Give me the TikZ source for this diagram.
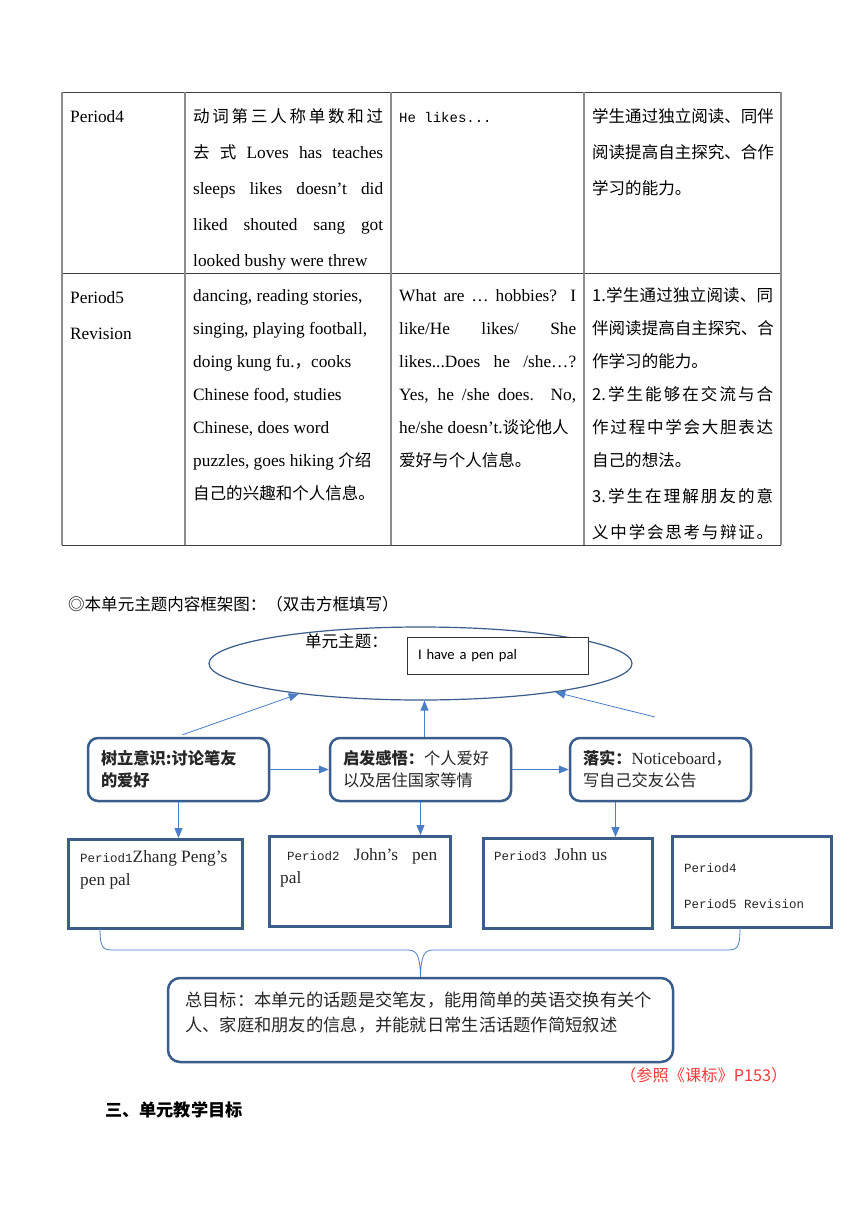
\documentclass[tikz,border=0pt]{standalone}
\usepackage{fontspec}
\setmainfont{Liberation Serif}
\setmonofont{Liberation Mono}
\newfontfamily\cjk{Noto Sans CJK SC}[Scale=0.955]
\newfontfamily\calibri{Carlito}
\usetikzlibrary{shapes.geometric,arrows.meta}

\definecolor{frameblue}{HTML}{3A5D8C}
\definecolor{linkblue}{HTML}{4A7EC6}
\definecolor{notered}{HTML}{F03C3C}

\newcommand{\zh}[1]{{\cjk #1}}
\newcommand{\per}[1]{{\fontsize{12.5}{15}\ttfamily #1}}
% stretch one line to a fixed width
\newcommand{\jline}[2]{\makebox[#1][s]{#2}}
% same, but spread every Chinese character
\def\spreadzh#1{\spreadfirst#1\relax}
\def\spreadfirst#1{#1\spreadnext}
\def\spreadnext#1{\ifx#1\relax\else\hfil#1\expandafter\spreadnext\fi}
\newcommand{\zhfill}[2]{\makebox[#1][s]{\cjk\spreadzh{#2}}}

\begin{document}
\begin{tikzpicture}[x=1pt, y=-1pt,
  cell/.style={anchor=base west, inner sep=0pt, font=\fontsize{17.3}{20}\selectfont},
  rule/.style={draw=black!75, line width=1pt},
  vrule/.style={draw=black!45, line width=1.4pt},
  focus/.style={draw=frameblue, line width=2.5pt, rounded corners=10pt,
    minimum width=181pt, minimum height=63pt, inner xsep=13pt, text width=155pt,
    align=left, font=\fontsize{17}{22}\selectfont, text=black!85},
  period/.style={draw=frameblue, line width=3pt, anchor=north west, inner sep=0pt},
  link/.style={-{Triangle[length=10pt,width=8pt]}, draw=linkblue, line width=0.8pt},
  boxtext/.style={anchor=base west, inner sep=0pt, font=\fontsize{17.3}{20}\selectfont, text=black!85}
]
\fill[white] (0,0) rectangle (860,1216);
\useasboundingbox (0,0) rectangle (860,1216);

% Table rules
\foreach \y in {92,273,545} \draw[rule] (62,\y) -- (781,\y);
\foreach \x in {62,185,391,584,781} \draw[vrule] (\x,92) -- (\x,545);

% Row Period4
\node[cell] (r1a) at (70,122) {Period4};
\node[cell] (r1b1) at (193,122) {\zhfill{190pt}{动词第三人称单数和过}};
\node[cell] (r1b2) at (193,158) {\jline{190pt}{\zh{去} \zh{式} Loves has teaches}};
\node[cell] (r1b3) at (193,194) {\jline{190pt}{sleeps likes doesn’t did}};
\node[cell] (r1b4) at (193,230) {\jline{190pt}{liked shouted sang got}};
\node[cell] (r1b5) at (193,266) {looked bushy were threw};
\node[cell, font=\fontsize{14}{16}\ttfamily] (r1c) at (399,122) {He likes...};
\node[cell] (r1d1) at (592,122) {\zhfill{181pt}{学生通过独立阅读、同伴}};
\node[cell] (r1d2) at (592,158) {\zhfill{181pt}{阅读提高自主探究、合作}};
\node[cell] (r1d3) at (592,194) {\zh{学习的能力。}};

% Row Period5
\node[cell] (r2a1) at (70,303) {Period5};
\node[cell] (r2a2) at (70,339) {Revision};
\foreach \txt [count=\i] in {{dancing, reading stories,}, {singing, playing football,},
    {doing kung fu.\zh{，}cooks}, {Chinese food, studies}, {Chinese, does word},
    {puzzles, goes hiking \zh{介绍}}, {\zh{自己的兴趣和个人信息。}}}
  \node[cell] (r2b\i) at (193,{301+33*(\i-1)}) {\txt};
\foreach \txt [count=\i] in {{\jline{177pt}{What are … hobbies? I}}, {\jline{177pt}{like/He likes/ She}},
    {\jline{177pt}{likes...Does he /she…?}}, {\jline{177pt}{Yes, he /she does. No,}},
    {he/she doesn’t.\zh{谈论他人}}, {\zh{爱好与个人信息。}}}
  \node[cell] (r2c\i) at (399,{301+33*(\i-1)}) {\txt};
\node[cell] (r2d1) at (592,301) {\zhfill{181pt}{{1.}学生通过独立阅读、同}};
\node[cell] (r2d2) at (592,334) {\zhfill{181pt}{伴阅读提高自主探究、合}};
\node[cell] (r2d3) at (592,367) {\zh{作学习的能力。}};
\node[cell] (r2d4) at (592,400) {\zhfill{181pt}{{2.}学生能够在交流与合}};
\node[cell] (r2d5) at (592,433) {\zhfill{181pt}{作过程中学会大胆表达}};
\node[cell] (r2d6) at (592,466) {\zh{自己的想法。}};
\node[cell] (r2d7) at (592,502) {\zhfill{181pt}{{3.}学生在理解朋友的意}};
\node[cell] (r2d8) at (592,538) {\zhfill{181pt}{义中学会思考与辩证。}};

% Framework diagram
\node[cell] (frametitle) at (68,610) {\zh{◎本单元主题内容框架图：（双击方框填写）}};
\node[ellipse, draw=frameblue, line width=1.2pt, minimum width=423pt, minimum height=73pt,
  inner sep=0pt] (theme) at (420.5,663.5) {};
\node[cell] (themelabel) at (305,647) {\zh{单元主题：}};
\node[draw=black!80, line width=1pt, fill=white, minimum width=181pt, minimum height=37pt,
  text width=159pt, inner xsep=11pt, align=left, font=\calibri\fontsize{14.6}{17}\selectfont]
  (topic) at (497.5,655.5) {I have a pen pal};

\node[focus] (aware) at (178.5,769.5) {\zh{\bfseries 树立意识:讨论笔友}\\\zh{\bfseries 的爱好}};
\node[focus] (inspire) at (420.5,769.5) {\zh{\bfseries 启发感悟：}\zh{个人爱好}\\\zh{以及居住国家等情}};
\node[focus] (practice) at (660.5,769.5) {\zh{\bfseries 落实：}Noticeboard\zh{，}\\\zh{写自己交友公告}};

% Arrows up to the theme
\coordinate (rightfoot) at (655,717);
\draw[link] ([shift={(4pt,2pt)}]aware.north) -- (theme.194);
\draw[link] ([xshift=4pt]inspire.north) -- ([xshift=4pt]theme.south);
\draw[link] (rightfoot) -- (theme.-12);
\draw[link] (aware.east) -- (inspire.west);
\draw[link] (inspire.east) -- (practice.west);

% Period boxes
\node[period, minimum width=174pt, minimum height=89pt] (p1) at (67,838) {};
\node[period, minimum width=181pt, minimum height=90pt] (p2) at (268,835) {};
\node[period, minimum width=169pt, minimum height=90pt] (p3) at (482,837) {};
\node[period, minimum width=159pt, minimum height=91pt] (p4) at (671,835) {};
\node[boxtext] (p1a) at (80,862) {\per{Period1}Zhang Peng’s};
\node[boxtext] (p1b) at (80,885) {pen pal};
\node[boxtext] (p2a) at (287,860) {\jline{150pt}{\per{Period2} John’s pen}};
\node[boxtext] (p2b) at (280,883) {pal};
\node[boxtext] (p3a) at (494,860) {\per{Period3}\hspace{8pt}John us};
\node[boxtext] (p4a) at (684,872) {\per{Period4}};
\node[boxtext] (p4b) at (684,908) {\per{Period5 Revision}};

\coordinate (p3drop) at ([xshift=-45pt]practice.south);
\draw[link] (aware.south) -- (aware.south |- p1.north);
\draw[link] (inspire.south) -- (inspire.south |- p2.north);
\draw[link] (p3drop) -- (p3drop |- p3.north);

% Brace and overall goal
\node[draw=frameblue, line width=2.5pt, rounded corners=12pt, minimum width=505pt,
  minimum height=84pt] (summary) at (420.5,1020) {};
\coordinate (braceL) at (100,928);
\coordinate (braceR) at (740,928);
\draw[draw=linkblue, line width=0.8pt]
  (braceL) .. controls (100,946) and (102,950) .. (112,950) -- (408,950)
  .. controls (417,950) and (420,956) .. (summary.north)
  .. controls (421,956) and (424,950) .. (433,950) -- (728,950)
  .. controls (738,950) and (740,946) .. (braceR);
\node[boxtext, font=\fontsize{18.1}{20}\selectfont] (summary1) at (185,1006)
  {\zh{总目标：本单元的话题是交笔友，能用简单的英语交换有关个}};
\node[boxtext, font=\fontsize{18.1}{20}\selectfont] (summary2) at (185,1031)
  {\zh{人、家庭和朋友的信息，并能就日常生活话题作简短叙述}};

\node[cell, text=notered, font=\fontsize{17}{20}\selectfont] (source) at (620,1081) {\zh{（参照《课标》P153）}};
\node[cell, font=\fontsize{18}{20}\selectfont] (heading) at (105,1116) {\zh{\bfseries 三、单元教学目标}};

\end{tikzpicture}
\end{document}
